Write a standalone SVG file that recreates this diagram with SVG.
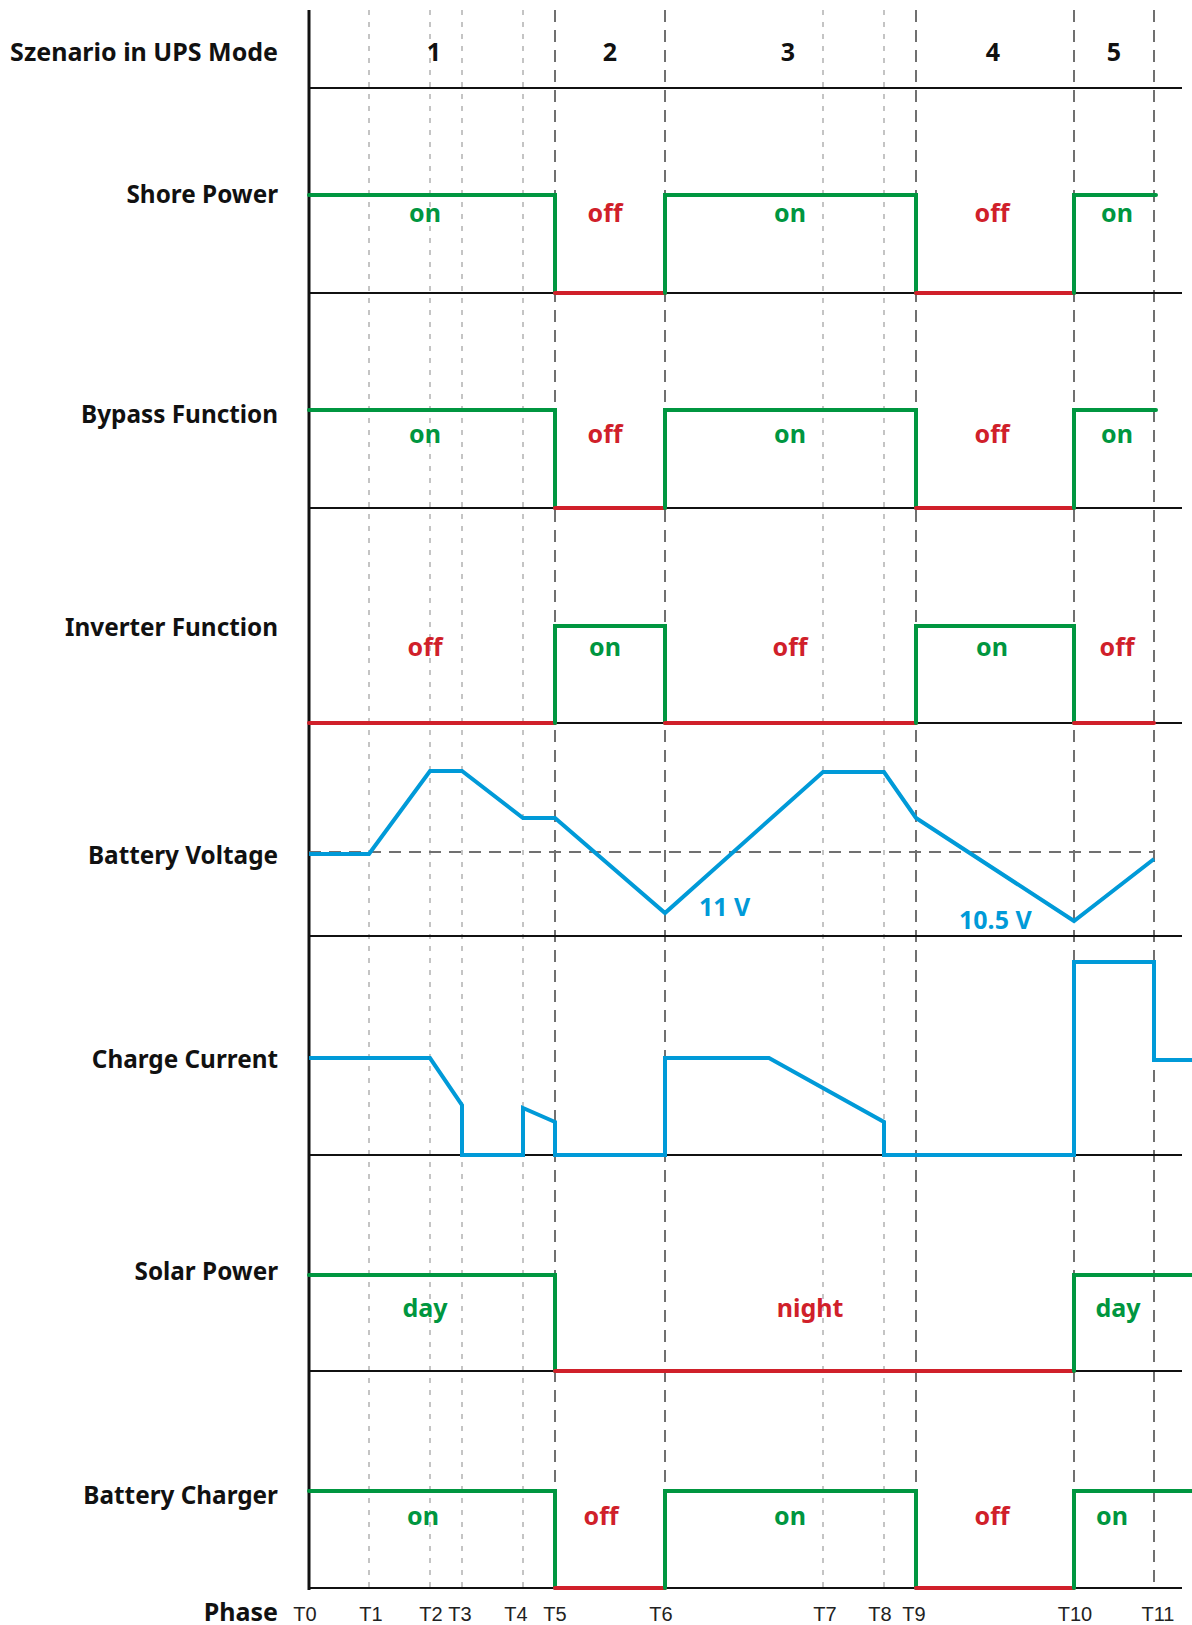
<svg xmlns="http://www.w3.org/2000/svg" width="1192" height="1625" viewBox="0 0 1192 1625">
<style>
.lbl{font-family:"Noto Sans","Liberation Sans",sans-serif;font-weight:700;font-size:24.3px;fill:#111;text-anchor:end}
.num{font-family:"Noto Sans","Liberation Sans",sans-serif;font-weight:700;font-size:25px;fill:#111;text-anchor:middle}
.st{font-family:"Noto Sans","Liberation Sans",sans-serif;font-weight:700;font-size:25px;text-anchor:middle}
.on{fill:#009640}
.off{fill:#d0202a}
.volt{font-family:"Noto Sans","Liberation Sans",sans-serif;font-weight:700;font-size:25px;fill:#009ad8}
.tm{font-family:"Liberation Sans","Noto Sans",sans-serif;font-size:20px;fill:#222;text-anchor:middle}
.hl{stroke:#111;stroke-width:2;fill:none}
.dark{stroke:#707070;stroke-width:2;stroke-dasharray:12 8;fill:none}
.light{stroke:#c4c4c4;stroke-width:2;stroke-dasharray:5 7;fill:none}
.g{stroke:#009640;stroke-width:4;fill:none;stroke-linejoin:miter;stroke-linecap:round}
.r{stroke:#d0202a;stroke-width:4;fill:none;stroke-linecap:round}
.b{stroke:#009ad8;stroke-width:4;fill:none;stroke-linejoin:miter}
</style>
<rect width="1192" height="1625" fill="#fff"/>
<g id="grid">
<line class="light" x1="369" y1="10" x2="369" y2="1588"/>
<line class="light" x1="430" y1="10" x2="430" y2="1588"/>
<line class="light" x1="462" y1="10" x2="462" y2="1588"/>
<line class="light" x1="523" y1="10" x2="523" y2="1588"/>
<line class="light" x1="823" y1="10" x2="823" y2="1588"/>
<line class="light" x1="884" y1="10" x2="884" y2="1588"/>
<line class="dark" x1="555" y1="10" x2="555" y2="1588"/>
<line class="dark" x1="665" y1="10" x2="665" y2="1588"/>
<line class="dark" x1="916" y1="10" x2="916" y2="1588"/>
<line class="dark" x1="1074" y1="10" x2="1074" y2="1588"/>
<line class="dark" x1="1154" y1="10" x2="1154" y2="1588"/>
<line class="hl" x1="309" y1="88" x2="1182" y2="88"/>
<line class="hl" x1="309" y1="293" x2="1182" y2="293"/>
<line class="hl" x1="309" y1="508" x2="1182" y2="508"/>
<line class="hl" x1="309" y1="723" x2="1182" y2="723"/>
<line class="hl" x1="309" y1="936" x2="1182" y2="936"/>
<line class="hl" x1="309" y1="1155" x2="1182" y2="1155"/>
<line class="hl" x1="309" y1="1371" x2="1182" y2="1371"/>
<line class="hl" x1="309" y1="1588" x2="1182" y2="1588"/>
<line x1="309" y1="10" x2="309" y2="1590" stroke="#111" stroke-width="3"/>
<line class="dark" x1="309" y1="852" x2="1154" y2="852"/>
</g>
<g id="labels">
<text class="lbl" x="278" y="61" style="font-size:25px">Szenario in UPS Mode</text>
<text class="lbl" x="278" y="203">Shore Power</text>
<text class="lbl" x="278" y="423">Bypass Function</text>
<text class="lbl" x="278" y="636">Inverter Function</text>
<text class="lbl" x="278" y="864">Battery Voltage</text>
<text class="lbl" x="278" y="1068">Charge Current</text>
<text class="lbl" x="278" y="1280">Solar Power</text>
<text class="lbl" x="278" y="1504">Battery Charger</text>
<text class="lbl" x="278" y="1621" style="font-size:25px">Phase</text>
</g>
<g id="scenarios">
<text class="num" x="434" y="61">1</text>
<text class="num" x="610" y="61">2</text>
<text class="num" x="788" y="61">3</text>
<text class="num" x="993" y="61">4</text>
<text class="num" x="1114" y="61">5</text>
</g>
<g id="shore-power">
<path class="g" d="M309,195 H555 V293"/>
<path class="r" d="M555,293 H665"/>
<path class="g" d="M665,293 V195 H916 V293"/>
<path class="r" d="M916,293 H1074"/>
<path class="g" d="M1074,293 V195 H1156"/>
<text class="st on" x="425" y="222">on</text>
<text class="st off" x="605" y="222">off</text>
<text class="st on" x="790" y="222">on</text>
<text class="st off" x="992" y="222">off</text>
<text class="st on" x="1117" y="222">on</text>
</g>
<g id="bypass-function">
<path class="g" d="M309,410 H555 V508"/>
<path class="r" d="M555,508 H665"/>
<path class="g" d="M665,508 V410 H916 V508"/>
<path class="r" d="M916,508 H1074"/>
<path class="g" d="M1074,508 V410 H1156"/>
<text class="st on" x="425" y="443">on</text>
<text class="st off" x="605" y="443">off</text>
<text class="st on" x="790" y="443">on</text>
<text class="st off" x="992" y="443">off</text>
<text class="st on" x="1117" y="443">on</text>
</g>
<g id="inverter-function">
<path class="r" d="M309,723 H555"/>
<path class="g" d="M555,723 V626 H665 V723"/>
<path class="r" d="M665,723 H916"/>
<path class="g" d="M916,723 V626 H1074 V723"/>
<path class="r" d="M1074,723 H1154"/>
<text class="st off" x="425" y="656">off</text>
<text class="st on" x="605" y="656">on</text>
<text class="st off" x="790" y="656">off</text>
<text class="st on" x="992" y="656">on</text>
<text class="st off" x="1117" y="656">off</text>
</g>
<g id="battery-voltage">
<path class="b" d="M309,854 H369 L430,771 H462 L523,818 H555 L665,913 L823,772 H884 L916,818 L1074,921 L1154,859"/>
<text class="volt" x="699" y="916">11 V</text>
<text class="volt" x="959" y="929">10.5 V</text>
</g>
<g id="charge-current">
<path class="b" d="M309,1058 H430 L462,1105 V1155 H523 V1108 L555,1122 V1155 H665 V1058 H769 L884,1122 V1155 H1074 V962 H1154 V1060 H1192"/>
</g>
<g id="solar-power">
<path class="g" d="M309,1275 H555 V1371"/>
<path class="r" d="M555,1371 H1074"/>
<path class="g" d="M1074,1371 V1275 H1192"/>
<text class="st on" x="425" y="1317">day</text>
<text class="st off" x="810" y="1317">night</text>
<text class="st on" x="1118" y="1317">day</text>
</g>
<g id="battery-charger">
<path class="g" d="M309,1491 H555 V1588"/>
<path class="r" d="M555,1588 H665"/>
<path class="g" d="M665,1588 V1491 H916 V1588"/>
<path class="r" d="M916,1588 H1074"/>
<path class="g" d="M1074,1588 V1491 H1192"/>
<text class="st on" x="423" y="1525">on</text>
<text class="st off" x="601" y="1525">off</text>
<text class="st on" x="790" y="1525">on</text>
<text class="st off" x="992" y="1525">off</text>
<text class="st on" x="1112" y="1525">on</text>
</g>
<g id="phases">
<text class="tm" x="305" y="1621">T0</text>
<text class="tm" x="371" y="1621">T1</text>
<text class="tm" x="431" y="1621">T2</text>
<text class="tm" x="460" y="1621">T3</text>
<text class="tm" x="516" y="1621">T4</text>
<text class="tm" x="555" y="1621">T5</text>
<text class="tm" x="661" y="1621">T6</text>
<text class="tm" x="825" y="1621">T7</text>
<text class="tm" x="880" y="1621">T8</text>
<text class="tm" x="914" y="1621">T9</text>
<text class="tm" x="1075" y="1621">T10</text>
<text class="tm" x="1158" y="1621">T11</text>
</g>
</svg>
